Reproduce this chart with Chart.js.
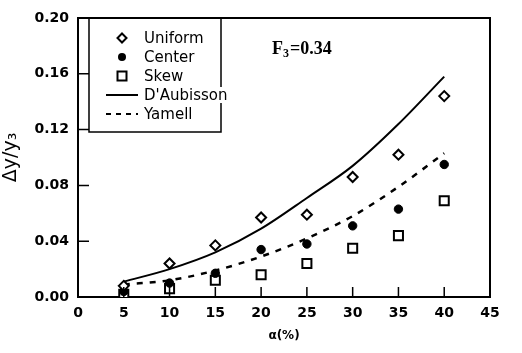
<!DOCTYPE html>
<html>
<head>
<meta charset="utf-8">
<script src="https://cdn.jsdelivr.net/npm/chart.js@4.4.1/dist/chart.umd.min.js"></script>
<style>
  body { margin: 0; background: #fff; }
  #wrap { width: 522px; height: 353px; }
</style>
</head>
<body>
<div id="wrap"><canvas id="chart" width="522" height="353"></canvas></div>
<script>
// data
const alpha = [5, 10, 15, 20, 25, 30, 35, 40];
const uniform = [0.008, 0.024, 0.037, 0.057, 0.059, 0.086, 0.102, 0.144];
const center = [0.004, 0.010, 0.017, 0.034, 0.038, 0.051, 0.063, 0.095];
const skew = [0.002, 0.006, 0.012, 0.016, 0.024, 0.035, 0.044, 0.069];
const daubisson = [0.011, 0.020, 0.032, 0.049, 0.071, 0.094, 0.124, 0.158];
const yamell = [0.009, 0.012, 0.019, 0.029, 0.042, 0.058, 0.079, 0.103];

const xTicks = [0, 5, 10, 15, 20, 25, 30, 35, 40, 45];
const yTicks = [0, 0.04, 0.08, 0.12, 0.16, 0.20];

const pts = arr => arr.map((v, i) => ({ x: alpha[i], y: v }));

// white background, frame and inward ticks
const framePlugin = {
  id: 'frame',
  beforeDraw(chart) {
    const ctx = chart.ctx;
    ctx.save();
    ctx.fillStyle = '#fff';
    ctx.fillRect(0, 0, chart.width, chart.height);
    ctx.restore();
  },
  afterDatasetsDraw(chart) {
    const { ctx, chartArea: a, scales } = chart;
    ctx.save();
    ctx.strokeStyle = '#000';
    ctx.lineWidth = 2;
    ctx.beginPath();
    ctx.moveTo(a.left, a.top);
    ctx.lineTo(a.right, a.top);
    ctx.lineTo(a.right, a.bottom);
    ctx.stroke();

    ctx.lineWidth = 1.5;
    ctx.beginPath();
    xTicks.slice(1, -1).forEach(v => {
      const px = scales.x.getPixelForValue(v);
      ctx.moveTo(px, a.bottom);
      ctx.lineTo(px, a.bottom - 10);
    });
    yTicks.slice(1, -1).forEach(v => {
      const py = scales.y.getPixelForValue(v);
      ctx.moveTo(a.left, py);
      ctx.lineTo(a.left + 11, py);
    });
    ctx.stroke();
    ctx.restore();
  }
};

function drawMarker(ctx, kind, x, y) {
  ctx.beginPath();
  if (kind === 'diamond') {
    ctx.moveTo(x, y - 4.5);
    ctx.lineTo(x + 4.5, y);
    ctx.lineTo(x, y + 4.5);
    ctx.lineTo(x - 4.5, y);
    ctx.closePath();
    ctx.stroke();
  } else if (kind === 'dot') {
    ctx.arc(x, y, 4, 0, Math.PI * 2);
    ctx.fill();
  } else {
    ctx.rect(x - 4.5, y - 4.5, 9, 9);
    ctx.stroke();
  }
}

// legend box and annotation
const legendPlugin = {
  id: 'boxLegend',
  afterDraw(chart) {
    const ctx = chart.ctx;
    const ds = chart.data.datasets;
    ctx.save();
    ctx.strokeStyle = '#000';
    ctx.fillStyle = '#000';
    ctx.lineWidth = 1.5;
    ctx.strokeRect(89, 18, 132, 114);

    const rows = [38, 57, 76, 95, 114];
    const kinds = ['diamond', 'dot', 'square'];
    ctx.font = '15px "DejaVu Sans"';
    ctx.textBaseline = 'middle';
    ds.forEach((d, i) => {
      const y = rows[i];
      ctx.lineWidth = 2;
      if (i < 3) {
        drawMarker(ctx, kinds[i], 122, y);
      } else {
        ctx.setLineDash(i === 4 ? [5, 5] : []);
        ctx.beginPath();
        ctx.moveTo(106, y);
        ctx.lineTo(138, y);
        ctx.stroke();
        ctx.setLineDash([]);
      }
      const w = ctx.measureText(d.label).width;
      ctx.fillStyle = '#fff';
      ctx.fillRect(143, y - 8, w + 2, 16);
      ctx.fillStyle = '#000';
      ctx.fillText(d.label, 144, y + 1);
    });

    // F3 label
    ctx.textBaseline = 'alphabetic';
    ctx.font = 'bold 18px "Liberation Serif"';
    ctx.fillText('F', 272, 54);
    ctx.font = 'bold 12px "Liberation Serif"';
    ctx.fillText('3', 283, 57);
    ctx.font = 'bold 18px "Liberation Serif"';
    ctx.fillText('=0.34', 290, 54);
    ctx.restore();
  }
};

new Chart(document.getElementById('chart'), {
  type: 'scatter',
  data: {
    datasets: [
      {
        label: 'Uniform', data: pts(uniform), showLine: false,
        pointStyle: 'rectRot', pointRadius: 5, borderWidth: 2,
        borderColor: '#000', backgroundColor: '#fff'
      },
      {
        label: 'Center', data: pts(center), showLine: false,
        pointStyle: 'circle', pointRadius: 4.2, borderWidth: 1,
        borderColor: '#000', backgroundColor: '#000'
      },
      {
        label: 'Skew', data: pts(skew), showLine: false,
        pointStyle: 'rect', pointRadius: 6.4, borderWidth: 2,
        borderColor: '#000', backgroundColor: '#fff'
      },
      {
        label: "D'Aubisson", data: pts(daubisson), showLine: true,
        pointRadius: 0, borderWidth: 2, borderColor: '#000',
        cubicInterpolationMode: 'monotone'
      },
      {
        label: 'Yamell', data: pts(yamell), showLine: true,
        pointRadius: 0, borderWidth: 2.5, borderColor: '#000',
        borderDash: [6, 7], cubicInterpolationMode: 'monotone'
      }
    ]
  },
  options: {
    responsive: false,
    animation: false,
    layout: { padding: { left: 0, top: 18, right: 32, bottom: 0 } },
    plugins: {
      legend: { display: false },
      tooltip: { enabled: false }
    },
    scales: {
      x: {
        type: 'linear', min: 0, max: 45,
        afterFit(scale) { scale.height = 56; },
        afterBuildTicks(scale) { scale.ticks = xTicks.map(v => ({ value: v })); },
        ticks: {
          color: '#000', padding: 8,
          font: { family: 'DejaVu Sans', size: 14, weight: 'bold' }
        },
        grid: { display: true, drawOnChartArea: false, drawTicks: false },
        border: { display: true, color: '#000', width: 2 },
        title: {
          display: true, text: 'α(%)', color: '#000',
          font: { family: 'DejaVu Sans', size: 12, weight: 'bold' },
          padding: { top: 0, bottom: 10 }
        }
      },
      y: {
        type: 'linear', min: 0, max: 0.20,
        afterFit(scale) { scale.width = 78; },
        afterBuildTicks(scale) { scale.ticks = yTicks.map(v => ({ value: v })); },
        ticks: {
          color: '#000', padding: 9,
          font: { family: 'DejaVu Sans', size: 14, weight: 'bold' },
          callback: v => v.toFixed(2)
        },
        grid: { display: true, drawOnChartArea: false, drawTicks: false },
        border: { display: true, color: '#000', width: 2 },
        title: {
          display: true, text: 'Δy/y₃', color: '#000',
          font: { family: 'DejaVu Sans', size: 19 },
          padding: { top: 0, bottom: 0 }
        }
      }
    }
  },
  plugins: [framePlugin, legendPlugin]
});
</script>
</body>
</html>
